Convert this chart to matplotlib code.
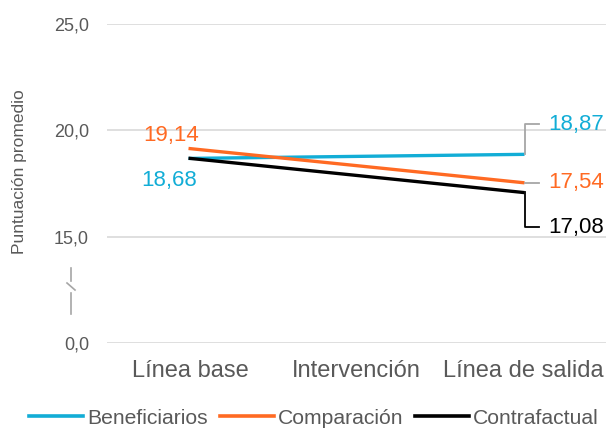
import numpy as np
import matplotlib
matplotlib.use("Agg")
import matplotlib.pyplot as plt
from matplotlib.lines import Line2D
from matplotlib.transforms import IdentityTransform

plt.rcParams['font.family'] = ['Liberation Sans', 'DejaVu Sans']

categories = ["Línea base", "Intervención", "Línea de salida"]
series_names = ["Beneficiarios", "Comparación", "Contrafactual"]
beneficiarios = [18.68, 18.87]
comparacion = [19.14, 17.54]
contrafactual = [18.68, 17.08]
point_idx = [0, 2]
yticks = [0, 15, 20, 25]
ytick_labels = ["0,0", "15,0", "20,0", "25,0"]

colors = ["#12ADD6", "#FF6A23", "#000000"]
text_gray = "#595959"


def fwd(y):
    y = np.asarray(y, dtype=float)
    return np.where(y >= 15, y - 10, y / 3.0)


def inv(y):
    y = np.asarray(y, dtype=float)
    return np.where(y >= 5, y + 10, y * 3.0)


W, H = 609, 430
fig = plt.figure(figsize=(W / 100, H / 100), dpi=100)
ax = fig.add_axes([107 / W, (H - 343) / H, (606 - 107) / W, (343 - 24) / H])
ax.set_yscale('function', functions=(fwd, inv))
ax.set_ylim(0, 25)
ax.set_xlim(-0.5, 2.5)

for s in ax.spines.values():
    s.set_visible(False)
ax.set_yticks(yticks)
ax.set_yticklabels(ytick_labels)
ax.yaxis.set_minor_locator(matplotlib.ticker.NullLocator())
ax.tick_params(axis='y', length=0, pad=13, labelsize=13, labelcolor=text_gray)
ax.set_xticks(range(len(categories)))
ax.set_xticklabels(categories)
ax.tick_params(axis='x', length=0, pad=12, labelsize=17, labelcolor=text_gray)
ax.grid(axis='y', color="#D9D9D9", linewidth=1.2)
ax.set_axisbelow(True)

data = [beneficiarios, comparacion, contrafactual]
for vals, c, name, z in zip(data, colors, series_names, [3, 4, 5]):
    ax.plot(point_idx, vals, color=c, linewidth=2.4, solid_capstyle='projecting', zorder=z, label=name)

# left labels
ax.annotate("19,14", xy=(point_idx[0], comparacion[0]), xytext=(-14, 9.5), textcoords='offset points',
            ha='center', va='center', fontsize=16, color=colors[1])
ax.annotate("18,68", xy=(point_idx[0], beneficiarios[0]), xytext=(-15, -16), textcoords='offset points',
            ha='center', va='center', fontsize=16, color=colors[0])


# right labels with leader lines (pixel offsets from the data point)
def leader(x, y, dy_px, label, color, lcolor):
    px, py = ax.transData.transform((x, y))
    ty = py + dy_px
    xs = [px + 2, px + 2, px + 16] if dy_px != 0 else [px + 2, px + 16]
    ys = [py, ty, ty] if dy_px != 0 else [py, py]
    fig.add_artist(Line2D(xs, ys, transform=IdentityTransform(), color=lcolor, lw=1.3, zorder=2))
    fig.text(px + 25, ty, label, transform=IdentityTransform(), ha='left', va='center',
             fontsize=16, color=color)


leader(point_idx[1], beneficiarios[1], 30, "18,87", colors[0], "#A6A6A6")
leader(point_idx[1], comparacion[1], 0, "17,54", colors[1], "#A6A6A6")
leader(point_idx[1], contrafactual[1], -35, "17,08", colors[2], "#000000")

# y label
fig.text(20 / W, 1 - 172 / H, "Puntuación promedio", rotation=90, ha='center', va='center',
         fontsize=12.5, color=text_gray)

# axis break symbol (decoration)
brk = "#A6A6A6"
fx = lambda p: p / W
fy = lambda p: 1 - p / H
fig.add_artist(Line2D([fx(71), fx(71)], [fy(268), fy(281)], color=brk, lw=1.2))
fig.add_artist(Line2D([fx(67), fx(75)], [fy(283), fy(290)], color=brk, lw=1.2))
fig.add_artist(Line2D([fx(71), fx(71)], [fy(293), fy(314)], color=brk, lw=1.2))

handles = [Line2D([0], [0], color=c, lw=2.6) for c in colors]
fig.legend(handles, series_names, loc='center', bbox_to_anchor=(314 / W, 1 - 418 / H),
           ncol=3, frameon=False, fontsize=15.2, handlelength=2.55, handletextpad=0.19,
           columnspacing=0.57, labelcolor=text_gray, borderaxespad=0, borderpad=0)

fig.savefig("out.png", dpi=100)
